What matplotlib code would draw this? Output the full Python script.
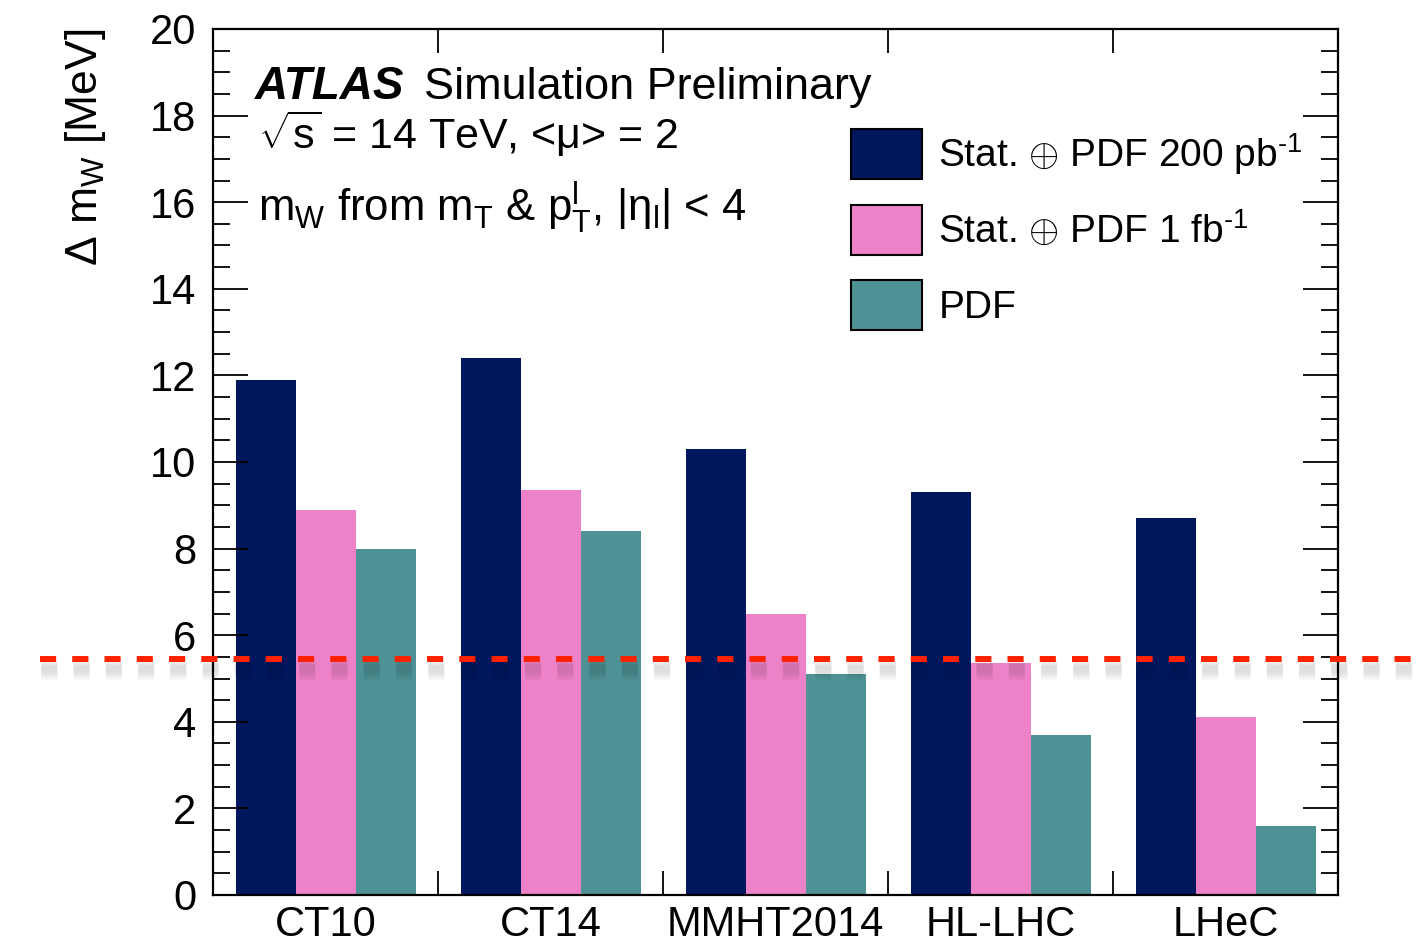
import matplotlib
matplotlib.use('Agg')
import matplotlib.pyplot as plt
import matplotlib.patheffects as pe
from matplotlib.patches import Patch
from matplotlib.transforms import blended_transform_factory
import numpy as np

plt.rcParams['font.family'] = ['Liberation Sans', 'DejaVu Sans']
plt.rcParams['mathtext.fontset'] = 'custom'
plt.rcParams['mathtext.rm'] = 'Liberation Sans'
plt.rcParams['mathtext.it'] = 'Liberation Sans:italic'
plt.rcParams['mathtext.bf'] = 'Liberation Sans:bold'
plt.rcParams['mathtext.sf'] = 'Liberation Sans'

# data
pdf_sets = ['CT10', 'CT14', 'MMHT2014', 'HL-LHC', 'LHeC']
stat_pdf_200pb = [11.9, 12.4, 10.3, 9.3, 8.7]
stat_pdf_1fb = [8.9, 9.35, 6.5, 5.35, 4.12]
pdf_only = [8.0, 8.4, 5.1, 3.7, 1.6]
ref_line = 5.45

labels = [r'Stat. $\oplus$ PDF 200 pb$^{\text{-1}}$',
          r'Stat. $\oplus$ PDF 1 fb$^{\text{-1}}$',
          'PDF']
colors = ['#00175E', '#EE82C8', '#4E9295']

fig = plt.figure(figsize=(14.19, 9.39), dpi=100)
ax = fig.add_axes([213/1419, 1-895/939, 1125/1419, 866/939])

x = np.arange(len(pdf_sets))
w = 0.8/3
for k, vals in enumerate([stat_pdf_200pb, stat_pdf_1fb, pdf_only]):
    ax.bar(x + 0.1 + k*w, vals, width=w, align='edge', color=colors[k], linewidth=0)

ax.set_xlim(0, 5)
ax.set_ylim(0, 20)

# ticks ROOT-like
ax.set_xticks(x + 0.5)
ax.set_xticklabels(pdf_sets, fontsize=30)
ax.set_xticks(np.arange(1, 5), minor=True)
ax.tick_params(axis='x', which='major', length=0, pad=7)
ax.tick_params(axis='x', which='minor', direction='in', length=17, width=1.3, top=True, bottom=True)
ax.set_yticks(np.arange(0, 21, 2))
ax.set_yticks(np.arange(0, 20.01, 0.5), minor=True)
ax.tick_params(axis='y', which='major', direction='in', length=25, width=1.3, labelsize=30, pad=12, left=True, right=True)
ax.tick_params(axis='y', which='minor', direction='in', length=12.5, width=1.3, left=True, right=True)
for s in ax.spines.values():
    s.set_linewidth(1.6)

fig.text(85/1419, 1-28/939, r'$\Delta$ m$_{\rm W}$ [MeV]', rotation=90,
         ha='center', va='top', fontsize=32)

# labels
ax.text(0.037, 0.919, 'ATLAS', transform=ax.transAxes, fontsize=33,
        fontweight='bold', fontstyle='italic', ha='left', va='baseline')
ax.text(0.188, 0.919, 'Simulation Preliminary', transform=ax.transAxes,
        fontsize=32.4, ha='left', va='baseline')
ax.text(0.040, 0.862, r'$\sqrt{\rm s}$ = 14 TeV, <μ> = 2', transform=ax.transAxes,
        fontsize=31, ha='left', va='baseline')
ax.text(0.040, 0.778, r'm$_{\rm W}$ from m$_{\rm T}$ & p$_{\rm T}^{\rm l}$, |η$_{\rm l}$| < 4',
        transform=ax.transAxes, fontsize=31.5, ha='left', va='baseline')

handles = [Patch(facecolor=c, edgecolor='black', linewidth=1.5) for c in colors]
ax.legend(handles, labels, loc='upper left', bbox_to_anchor=((851-213)/1125, (895-129)/866),
          frameon=False, fontsize=28, handlelength=1.83, handleheight=1.6,
          labelspacing=0.66, handletextpad=0.42, borderpad=0, borderaxespad=0)

# red dashed reference line, across the whole figure width
tr = blended_transform_factory(fig.transFigure, ax.transData)
shadow = [pe.SimpleLineShadow(offset=(1, -7), shadow_color='black', alpha=0.03, linewidth=lw)
          for lw in (16, 12, 9, 6)]
ax.plot([40/1419, 1.0], [ref_line, ref_line], transform=tr, clip_on=False,
        color='#FF2200', linewidth=4.3, linestyle=(0, (2.7, 2.7)),
        path_effects=shadow + [pe.Normal()], zorder=5)

fig.savefig('out.png', dpi=100)
